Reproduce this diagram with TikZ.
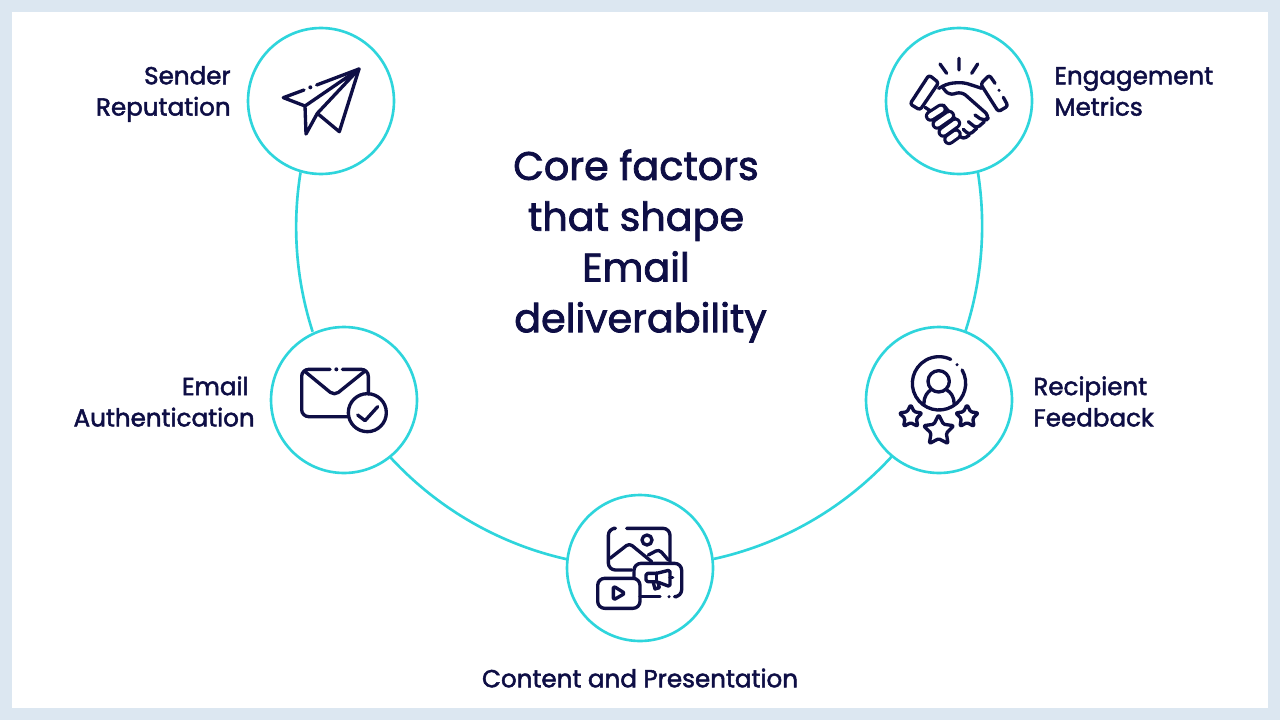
\documentclass[tikz,border=0pt]{standalone}
\usepackage{fontspec}
\setmainfont{Poppins}[FakeBold=2]
\usepackage{xcolor}
\usetikzlibrary{calc}
\definecolor{pagebg}{HTML}{DCE7F1}
\definecolor{ringcyan}{HTML}{2ED5DC}
\definecolor{inknavy}{HTML}{0E0E45}
% one capsule of the fist in the handshake
\newcommand{\fistcapsule}[2]{
  \draw[inknavy, line width=6.6pt, line cap=round] #1 -- #2;
  \draw[white, line width=3pt, line cap=round] #1 -- #2;
}
\newcommand{\ratestar}[3]{
  \draw[icon, shift={(#1,#2)}, rounded corners=0.8pt] (-90:#3) -- (-54:{#3*.5}) -- (-18:#3) -- (18:{#3*.5})
    -- (54:#3) -- (90:{#3*.5}) -- (126:#3) -- (162:{#3*.5}) -- (198:#3) -- (234:{#3*.5}) -- cycle;
}
\begin{document}
\begin{tikzpicture}[
  x=0.02cm, y=-0.02cm,
  factor/.style={circle, draw=ringcyan, line width=1.5pt, fill=white,
    minimum size=2.92cm, inner sep=0pt},
  ring/.style={draw=ringcyan, line width=1.5pt},
  icon/.style={draw=inknavy, line width=1.9pt, line cap=round, line join=round},
  lbl/.style={text=inknavy, font=\fontsize{14}{17.8}\selectfont, inner sep=0pt},
  lblw/.style={lbl, align=right, anchor=east},
  lble/.style={lbl, align=left, anchor=west},
  title/.style={text=inknavy, align=center, inner sep=0pt,
    font=\fontsize{22.6}{28.9}\selectfont}
]
  \fill[pagebg] (0,0) rectangle (1280,720);
  \fill[white] (12,12) rectangle (1268,708);
  \useasboundingbox (0,0) rectangle (1280,720);

  \node[title] (head) at (640.5,246) {\mbox{Core factors\hspace{.18cm}}\\\mbox{that shape\hspace{.18cm}}\\\mbox{Email\hspace{.18cm}}\\deliverability};

  \node[factor] (sender) at (321,101) {};
  \node[factor] (engage) at (959,101) {};
  \node[factor] (auth) at (344,400) {};
  \node[factor] (feedback) at (939,400) {};
  \node[factor] (content) at (640,568) {};

  \draw[ring] (sender.254) arc[start angle=189.2, end angle=162.1, radius=341];
  \draw[ring] (auth.-51.6) arc[start angle=137.3, end angle=102.4, radius=341];
  \draw[ring] (content.7.8) arc[start angle=77.6, end angle=42.6, radius=341];
  \draw[ring] (feedback.69) arc[start angle=17.9, end angle=-9.2, radius=341];

  \node[lblw] (senderlbl) at (231,94) {Sender\\Reputation};
  \node[lble] (engagelbl) at (1054,91.5) {Engagement\\Metrics};
  \node[lblw] (authlbl) at (255,401.5) {Email\hspace*{.12cm}\\Authentication};
  \node[lble] (feedbacklbl) at (1033,401.5) {Recipient\\Feedback};
  \node[lbl] (contentlbl) at (640,678) {Content and Presentation};

  % Paper plane
  \begin{scope}[shift={(240,20)}, scale=1/3]
    \draw[icon] (192,210) -- (130,233) -- (195,258) -- (198,342) -- (232,280) -- (298,335) -- (357,147) -- (230,195);
    \draw[icon] (195,258) -- (357,147) -- (232,280);
    \fill[inknavy] (211,202) circle (6);
  \end{scope}

  % Handshake
  \begin{scope}[shift={(880,20)}, scale=1/3]
    \draw[icon] (237,115) -- (237,150) (180,132) -- (200,160) (293,132) -- (275,160);
    \draw[icon, rounded corners=1.5pt] (147,165) -- (176,188) -- (120,270) -- (90,252) -- cycle;
    \draw[icon, rounded corners=1.5pt] (370,232) -- (384,258) -- (355,275) -- (302,192) -- (328,165) -- (345,190);
    \fill[inknavy] (357,211) circle (5);
    \draw[icon, rounded corners=3pt] (176,205) -- (205,190) -- (250,187) -- (305,205);
    \draw[icon, rounded corners=3pt] (190,205) -- (207,226) -- (245,215) -- (330,290) -- (313,305) -- (285,285);
    \draw[icon, rounded corners=2pt] (313,305) -- (290,325) -- (265,305);
    \draw[icon, rounded corners=2pt] (290,325) -- (268,345) -- (250,328);
    \draw[icon, rounded corners=2pt] (268,345) -- (250,358) -- (235,345);
    \draw[icon] (135,262) -- (155,275);
    \draw[icon] (190,255) -- (228,300);
    \fistcapsule{(152,288)}{(183,268)}
    \fistcapsule{(172,312)}{(208,287)}
    \fistcapsule{(190,336)}{(226,310)}
    \fistcapsule{(207,358)}{(228,343)}
  \end{scope}

  % Envelope with check
  \begin{scope}[shift={(265,320)}, scale=1/3]
    \draw[icon, rounded corners=4pt] (195,148) -- (110,148) -- (110,290) -- (250,290);
    \draw[icon, rounded corners=4pt] (232,148) -- (310,148) -- (310,222);
    \draw[icon, rounded corners=3pt] (118,153) -- (208,227) -- (300,153);
    \fill[inknavy] (214,148) circle (6);
    \draw[icon] (307,278) circle (57);
    \draw[icon] (278,285) -- (300,302) -- (338,260);
  \end{scope}

  % Person with stars
  \begin{scope}[shift={(860,320)}, scale=1/3]
    \draw[icon] (237,190) ++(-30:80) arc[start angle=-30, end angle=296, radius=80];
    \fill[inknavy] (291,134) circle (5);
    \draw[icon] (236,184) circle (32);
    \draw[icon] (192,250) .. controls (192,228) and (203,216) .. (212,210);
    \draw[icon] (282,250) .. controls (282,228) and (271,216) .. (260,210);
    \ratestar{152}{290}{36}
    \ratestar{321}{290}{36}
    \ratestar{236}{332}{48}
  \end{scope}

  % Picture, megaphone and video
  \begin{scope}[shift={(560,490)}, scale=1/3]
    \draw[icon, rounded corners=4pt] (160,115) -- (145,115) -- (145,240) -- (215,240);
    \draw[icon, rounded corners=4pt] (200,115) -- (330,115) -- (330,215);
    \draw[icon] (261,150) circle (15);
    \draw[icon, rounded corners=2pt] (150,205) -- (208,160) -- (275,215);
    \draw[icon, rounded corners=2pt] (265,195) -- (297,178) -- (325,210);
    \draw[icon, rounded corners=4pt] (222,265) -- (222,220) -- (365,220) -- (365,320) -- (350,320);
    \draw[icon] (240,320) -- (300,320);
    \fill[inknavy] (327,320) circle (5);
    \draw[icon, rounded corners=4pt] (113,265) rectangle (240,355);
    \draw[icon, rounded corners=1pt] (160,288) -- (195,310) -- (160,330) -- cycle;
    \draw[icon, rounded corners=1pt] (258,250) -- (290,250) -- (330,240) -- (330,290) -- (290,275) -- (258,275) -- cycle;
    \draw[icon] (290,250) -- (290,275);
    \draw[icon] (280,278) -- (285,297) -- (298,293) -- (295,282);
    \draw[icon] (330,262) -- (338,262);
  \end{scope}
\end{tikzpicture}
\end{document}
